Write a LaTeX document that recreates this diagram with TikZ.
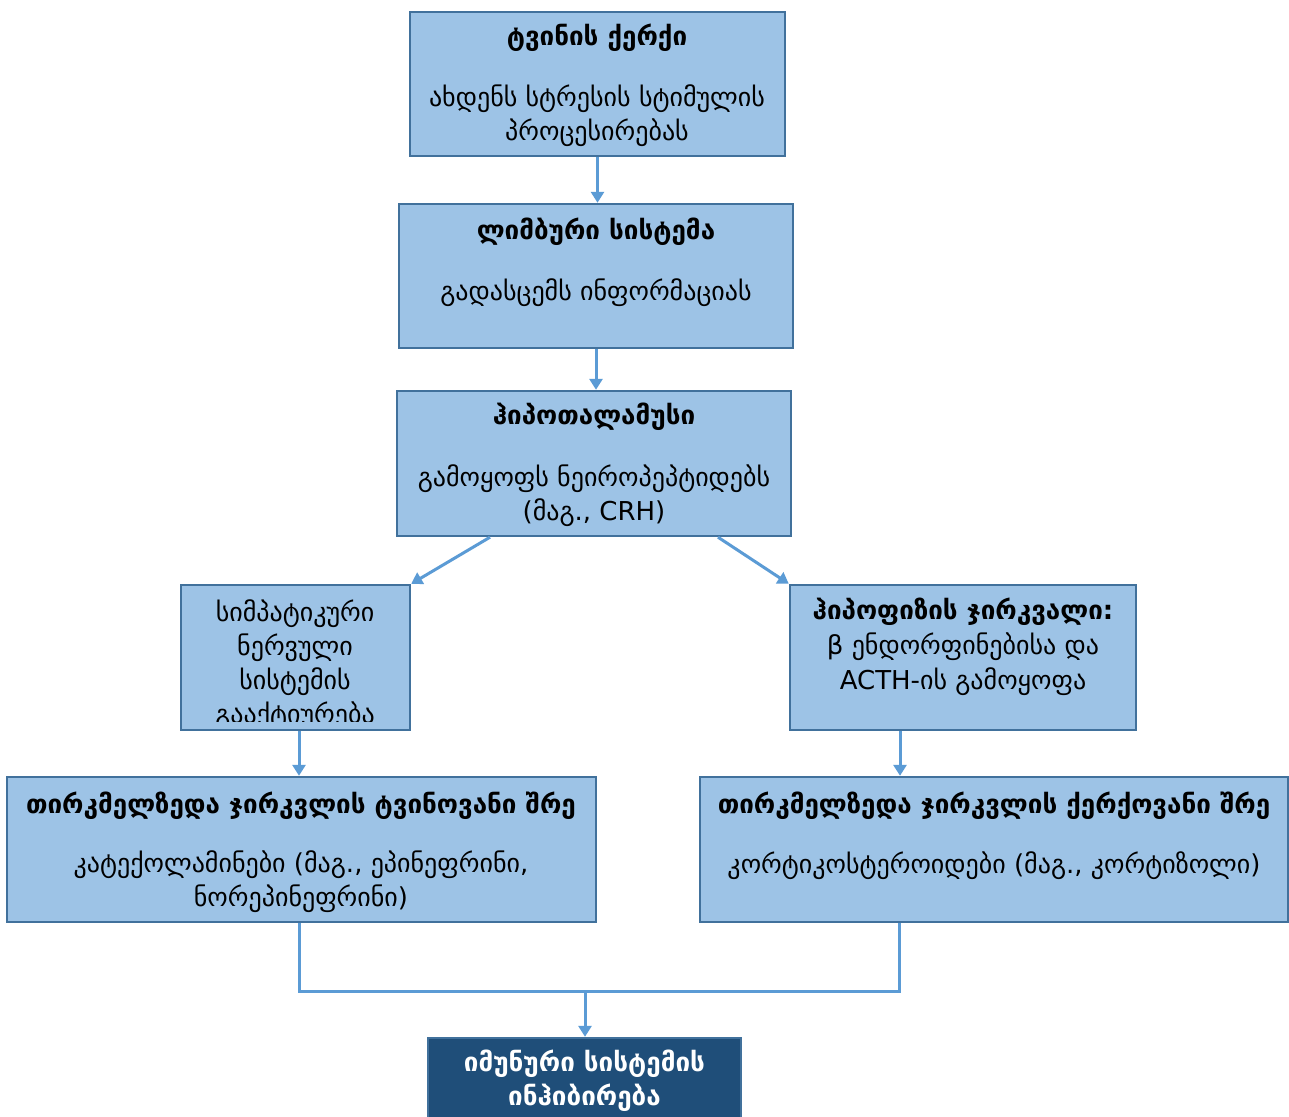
\documentclass[tikz,border=0pt]{standalone}
\usepackage{fontspec}
\setmainfont{DejaVu Sans}
\usetikzlibrary{arrows.meta}
\definecolor{boxfill}{HTML}{9DC3E6}
\definecolor{boxline}{HTML}{41719C}
\definecolor{linkblue}{HTML}{5B9BD5}
\definecolor{darkbox}{HTML}{1F4E79}
\tikzset{
  stage/.style={draw=boxline, fill=boxfill, line width=1.2pt, inner sep=0pt},
  txt/.style={align=center, inner sep=0pt, font=\fontsize{13}{17}\selectfont},
  ttl/.style={txt, font=\fontsize{13}{17}\selectfont\bfseries},
  link/.style={draw=linkblue, line width=1.5pt, -{Triangle[width=6.5pt,length=5.5pt]}},
  joinline/.style={draw=linkblue, line width=1.5pt},
}
\begin{document}
\begin{tikzpicture}[x=0.5pt, y=-0.5pt]
\clip (0,0) rectangle (1289,1117);
\fill[white] (0,0) rectangle (1289,1117);
% boxes
\node (brain) at (597.5,84) [stage, minimum width=187.5pt, minimum height=72pt]{};
\node (limbic) at (596,276) [stage, minimum width=197pt, minimum height=72pt]{};
\node (hypo) at (594,463.5) [stage, minimum width=197pt, minimum height=72.5pt]{};
\node (symp) at (295.5,657.5) [stage, minimum width=114.5pt, minimum height=72.5pt]{};
\node (pit) at (963,657.5) [stage, minimum width=173pt, minimum height=72.5pt]{};
\node (medulla) at (301.5,849.5) [stage, minimum width=294.5pt, minimum height=72.5pt]{};
\node (cortex) at (994,849.5) [stage, minimum width=294pt, minimum height=72.5pt]{};
\node (immune) at (584.5,1080) [stage, fill=darkbox, minimum width=156.5pt, minimum height=42pt]{};
% texts
\node (brainT) at (597,38) [ttl]{ტვინის ქერქი};
\node (brainB) at (597,116) [txt]{ახდენს სტრესის სტიმულის\\პროცესირებას};
\node (limbicT) at (596,232) [ttl]{ლიმბური სისტემა};
\node (limbicB) at (596,293) [txt]{გადასცემს ინფორმაციას};
\node (hypoT) at (594,417) [ttl]{ჰიპოთალამუსი};
\node (hypoB) at (594,496) [txt]{გამოყოფს ნეიროპეპტიდებს\\(მაგ., CRH)};
\begin{scope}
\clip (symp.north west) rectangle ([yshift=5pt]symp.south east);
\node (sympB) at (295,665) [txt]{სიმპატიკური\\ნერვული\\სისტემის\\გააქტიურება};
\end{scope}
\node (pitB) at (963,647) [txt, font=\fontsize{13}{17.4}\selectfont]{\textbf{ჰიპოფიზის ჯირკვალი:}\\β ენდორფინებისა და\\ACTH-ის გამოყოფა};
\node (medullaT) at (301,806) [ttl]{თირკმელზედა ჯირკვლის ტვინოვანი შრე};
\node (medullaB) at (301,882) [txt]{კატექოლამინები (მაგ., ეპინეფრინი,\\ნორეპინეფრინი)};
\node (cortexT) at (994,806) [ttl]{თირკმელზედა ჯირკვლის ქერქოვანი შრე};
\node (cortexB) at (994,866) [txt]{კორტიკოსტეროიდები (მაგ., კორტიზოლი)};
\node (immuneT) at (584.5,1081) [ttl, text=white]{იმუნური სისტემის\\ინჰიბირება};
% connectors
\coordinate (merge) at (585,991);
\draw[link] (brain.south) -- (brain.south |- limbic.north);
\draw[link] (limbic.south) -- (limbic.south |- hypo.north);
\draw[link] ([xshift=-52pt]hypo.south) -- (symp.north east);
\draw[link] ([xshift=62pt]hypo.south) -- (pit.north west);
\draw[link] ([xshift=1.75pt]symp.south) -- ([xshift=1.75pt]symp.south |- medulla.north);
\draw[link] ([xshift=-31.5pt]pit.south) -- ([xshift=-31.5pt]pit.south |- cortex.north);
\draw[joinline] ([xshift=-1.25pt]medulla.south) |- (merge) -| ([xshift=-47.5pt]cortex.south);
\draw[link] (merge) -- (merge |- immune.north);
\end{tikzpicture}
\end{document}
